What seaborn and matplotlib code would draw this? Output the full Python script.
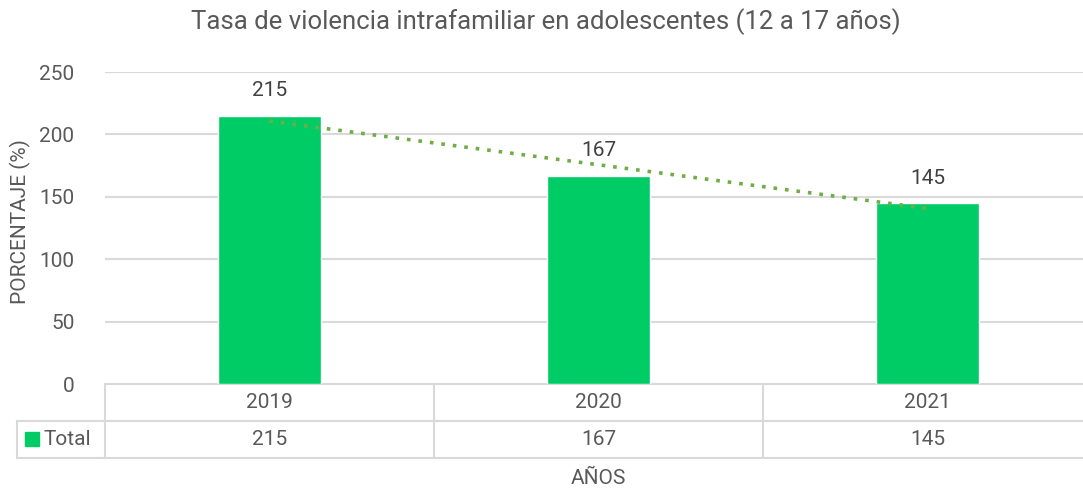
import numpy as np
import pandas as pd
import matplotlib
matplotlib.use("Agg")
import matplotlib.pyplot as plt
import seaborn as sns
from matplotlib.transforms import blended_transform_factory
from matplotlib.patches import Rectangle

years = ["2019", "2020", "2021"]
total = [215, 167, 145]

title = "Tasa de violencia intrafamiliar en adolescentes (12 a 17 años)"
bar_color = "#00CC66"
trend_color = "#70AD47"
grid_color = "#D9D9D9"
text_color = "#595959"

sns.set_style("white")
plt.rcParams['font.family'] = ['Roboto', 'DejaVu Sans']

df = pd.DataFrame({"year": years, "total": total})

fig = plt.figure(figsize=(10.83, 4.91), dpi=100)
W, H = 1083, 491
ax = fig.add_axes([105 / W, 1 - 384 / H, (1092 - 105) / W, 312 / H])

sns.barplot(data=df, x="year", y="total", color=bar_color, width=0.315,
            saturation=1, ax=ax, zorder=3)

# linear trendline
pos = np.arange(len(total))
coef = np.polyfit(pos, total, 1)
ax.plot(pos, np.polyval(coef, pos), linestyle=(0, (1, 2.2)), color=trend_color,
        linewidth=2.6, zorder=4)

ax.bar_label(ax.containers[0], labels=[str(v) for v in total], padding=11,
             fontsize=15, color="#404040")

ax.set_ylim(0, 250)
ax.set_xlim(-0.5, 2.5)
ax.set_yticks([0, 50, 100, 150, 200, 250])
ax.yaxis.grid(True, color=grid_color, linewidth=1.5, zorder=0)
for s in ax.spines.values():
    s.set_visible(False)
ax.tick_params(axis="y", length=0, labelsize=15, labelcolor=text_color, pad=22)
ax.tick_params(axis="x", length=0, labelbottom=False)
ax.set_xlabel("")
ax.set_ylabel("PORCENTAJE (%)", fontsize=15, color=text_color)
ax.yaxis.set_label_coords(-0.075, 0.52)

# data table below the chart
tr = blended_transform_factory(ax.transData, fig.transFigure)
y0 = 1 - 384 / H
y1 = 1 - 421 / H
y2 = 1 - 458 / H
lw = 1.5
ax.plot([-0.5, 2.5], [y0, y0], transform=tr, color=grid_color, lw=lw, clip_on=False)
ax.plot([-0.5, 2.5], [y1, y1], transform=tr, color=grid_color, lw=lw, clip_on=False)
ax.plot([-0.5, 2.5], [y2, y2], transform=tr, color=grid_color, lw=lw, clip_on=False)
for b in [-0.5, 0.5, 1.5, 2.5]:
    ax.plot([b, b], [y0, y2], transform=tr, color=grid_color, lw=lw, clip_on=False)
for i, (yr, v) in enumerate(zip(years, total)):
    ax.text(i, (y0 + y1) / 2, yr, transform=tr, ha="center", va="center",
            fontsize=15, color=text_color)
    ax.text(i, (y1 + y2) / 2, str(v), transform=tr, ha="center", va="center",
            fontsize=15, color=text_color)

# legend cell
fx0 = 17 / W
fx1 = 105 / W
fig.add_artist(plt.Line2D([fx0, fx1], [y1, y1], color=grid_color, lw=lw))
fig.add_artist(plt.Line2D([fx0, fx1], [y2, y2], color=grid_color, lw=lw))
fig.add_artist(plt.Line2D([fx0, fx0], [y1, y2], color=grid_color, lw=lw))
fig.add_artist(Rectangle((25 / W, 1 - 446 / H), 14 / W, 14 / H, color=bar_color,
                         transform=fig.transFigure))
fig.text(44 / W, (y1 + y2) / 2, "Total", ha="left", va="center", fontsize=15,
         color=text_color)

fig.text(598 / W, 1 - 478 / H, "AÑOS", ha="center", va="center", fontsize=15,
         color=text_color)
fig.text(546 / W, 1 - 22 / H, title, ha="center", va="center", fontsize=18.5,
         color=text_color)

fig.savefig("out.png", dpi=100)
